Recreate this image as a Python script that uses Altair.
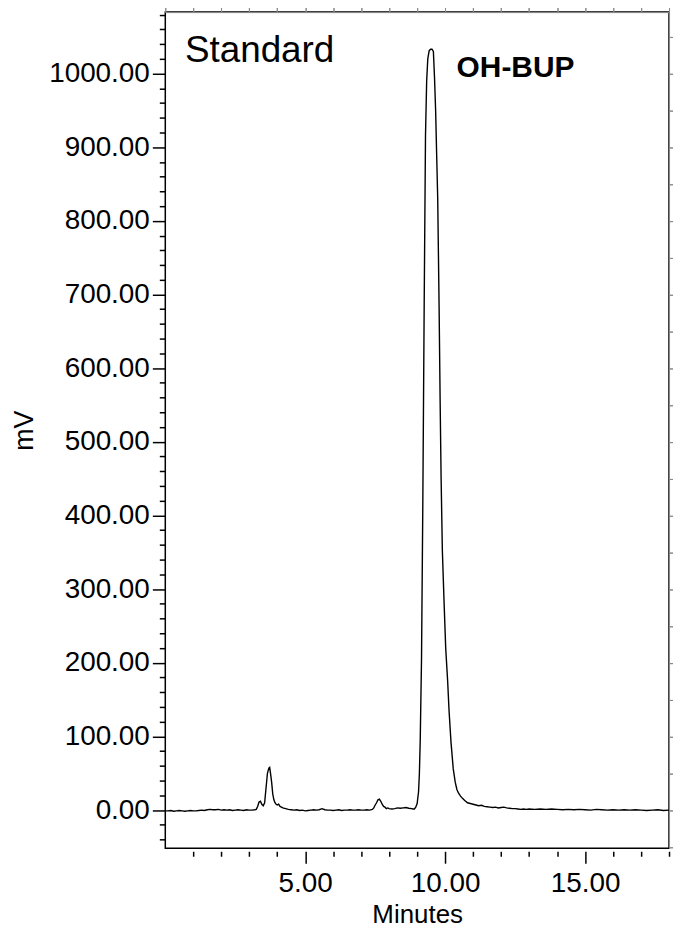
import altair as alt
import pandas as pd

# ---- chromatogram samples (time in minutes, signal in mV) ----
base1_t = [0.0, 0.1, 0.2, 0.3, 0.4, 0.5, 0.6, 0.7, 0.8, 0.9, 1.0, 1.1, 1.2, 1.3, 1.4, 1.5, 1.6,
           1.7, 1.8, 1.9, 2.0, 2.1, 2.2, 2.3, 2.4, 2.5, 2.6, 2.7, 2.8, 2.9, 3.0, 3.1, 3.2]
base1_v = [-1, -1, -0.5, -1.5, -1, -0.5, -1, -1.5, -1, -0.5, -1, -1, -0.5, 0, -0.5, 0.5, 1,
           0.5, 0.5, 1, 0, 0.5, 0, 0.5, -0.5, 0, 0.5, 0, -0.5, 0.5, 0, 0, 0.5]

peak1_t = [3.25, 3.30, 3.35, 3.40, 3.45, 3.50, 3.55, 3.60, 3.65, 3.70, 3.73, 3.76, 3.80, 3.84,
           3.88, 3.92, 3.96, 4.00, 4.05, 4.10, 4.15, 4.20, 4.30, 4.40, 4.50]
peak1_v = [1, 5, 11, 12, 8, 6, 10, 30, 50, 57, 58, 50, 38, 22,
           14, 10, 8, 7, 8, 5, 4, 3, 2, 1, 0.5]

base2_t = [4.6, 4.7, 4.8, 4.9, 5.0, 5.1, 5.2, 5.3, 5.4, 5.5, 5.6, 5.7, 5.8, 5.9, 6.0, 6.1, 6.2,
           6.3, 6.4, 6.5, 6.6, 6.7, 6.8, 6.9, 7.0, 7.1, 7.2, 7.3, 7.4]
base2_v = [0, 0.5, -0.5, 0, -1, -0.5, 0, 0.5, 0, 0.5, 2, 0.5, 0, 0, -0.5, 0, 0.5,
           -0.5, 0, 0, 0.5, 0, 0, 0.5, 0, 0, 0.5, 0, 1]

peak2_t = [7.45, 7.50, 7.55, 7.60, 7.65, 7.70, 7.75, 7.80, 7.85, 7.90, 7.95, 8.0, 8.1, 8.2,
           8.3, 8.4, 8.5, 8.6, 8.7, 8.8, 8.85]
peak2_v = [3, 7, 10, 14, 15, 12, 8, 5, 4, 2, 3, 2, 1.5, 2,
           3, 2.5, 3, 3.5, 2.5, 2, 1.5]

main_t = [8.90, 8.95, 9.00, 9.05, 9.08, 9.11, 9.156, 9.202, 9.252, 9.298, 9.34, 9.38, 9.43,
          9.48, 9.53, 9.58, 9.62, 9.66, 9.70, 9.735, 9.785, 9.821, 9.856, 9.90, 9.963, 10.02,
          10.09, 10.14, 10.21, 10.29, 10.36, 10.42, 10.48, 10.55, 10.62, 10.70, 10.80, 10.90]
main_v = [1.5, 4, 9, 25, 50, 95, 205, 415, 690, 915, 990, 1020, 1031,
          1033, 1033, 1030, 995, 950, 885, 830, 681, 556, 451, 353, 281, 220,
          175, 135, 92, 56, 38, 28, 23, 19, 16, 13, 10, 9]

tail_t = [11.0, 11.1, 11.2, 11.3, 11.4, 11.5, 11.6, 11.7, 11.8, 11.9, 12.0, 12.1, 12.2, 12.3,
          12.4, 12.5, 12.6, 12.7, 12.8, 12.9, 13.0, 13.2, 13.4, 13.6, 13.8, 14.0, 14.2, 14.4,
          14.6, 14.8, 15.0, 15.2, 15.4, 15.6, 15.8, 16.0, 16.2, 16.4, 16.6, 16.8, 17.0, 17.2,
          17.4, 17.6, 17.8, 18.0]
tail_v = [8, 7, 6, 6.5, 5, 4.5, 4, 3.5, 4, 3, 3.5, 4, 3, 2.5,
          2, 2, 1.5, 1, 1.5, 1, 1.5, 1, 1.5, 1, 1.5, 1, 0.5, 1,
          0.5, 1, 0.5, 0, 1, 0.5, 0, 0.5, 0, 0.5, 0, 0.5, 0, -0.5,
          0, 0.5, -0.5, 0]

# ---- axes ----
x_domain = [0, 18]
y_domain = [-51.8, 1083.4]
x_major = [5, 10, 15]
x_minor = [1, 2, 3, 4, 6, 7, 8, 9, 11, 12, 13, 14, 16, 17, 18]
y_major = [0, 100, 200, 300, 400, 500, 600, 700, 800, 900, 1000]
y_minor = [v for v in range(-40, 1081, 20) if v % 100 != 0]

# ---- annotations ----
label_std = ["Standard"]
label_std_x = [0.70]
label_std_y = [1015]
label_peak = ["OH-BUP"]
label_peak_x = [10.41]
label_peak_y = [995]

times = base1_t + peak1_t + base2_t + peak2_t + main_t + tail_t
signal = base1_v + peak1_v + base2_v + peak2_v + main_v + tail_v
df = pd.DataFrame({"t": times, "mv": signal})

FONT = "Liberation Sans"
xs = alt.Scale(domain=x_domain, nice=False, zero=False)
ys = alt.Scale(domain=y_domain, nice=False, zero=False)

line = alt.Chart(df).mark_line(color="black", strokeWidth=1.4, clip=True).encode(
    x=alt.X("t:Q", scale=xs, title="Minutes",
            axis=alt.Axis(values=x_major, format=".2f", tickSize=12, offset=3, domain=False,
                          labelPadding=6, labelFontSize=28, labelFont=FONT, labelColor="black",
                          tickColor="black", tickWidth=1.5, grid=False, orient="bottom",
                          titleFont=FONT, titleFontSize=26, titleFontWeight="normal",
                          titleColor="black", titleX=253, titleY=72,
                          titleBaseline="alphabetic")),
    y=alt.Y("mv:Q", scale=ys, title="mV",
            axis=alt.Axis(values=y_major, format=".2f", tickSize=13, domain=False,
                          labelPadding=3, labelFontSize=28, labelFont=FONT, labelColor="black",
                          tickColor="black", tickWidth=1.5, grid=False, orient="left",
                          titleFont=FONT, titleFontSize=27, titleFontWeight="normal",
                          titleColor="black", titleX=-133, titleY=420,
                          titleBaseline="alphabetic")),
)

minor = alt.Chart(df).mark_line(opacity=0).encode(
    x=alt.X("t:Q", scale=xs, title=None,
            axis=alt.Axis(values=x_minor, tickSize=5, offset=3, labels=False, domain=False,
                          tickColor="black", tickWidth=1.5, grid=False, orient="bottom")),
    y=alt.Y("mv:Q", scale=ys, title=None,
            axis=alt.Axis(values=y_minor, tickSize=6, labels=False, domain=False,
                          tickColor="black", tickWidth=1.5, grid=False, orient="left")),
)

std_df = pd.DataFrame({"x": label_std_x, "y": label_std_y, "txt": label_std})
peak_df = pd.DataFrame({"x": label_peak_x, "y": label_peak_y, "txt": label_peak})

std_text = alt.Chart(std_df).mark_text(
    align="left", baseline="alphabetic", font=FONT, fontSize=37, color="black"
).encode(x=alt.X("x:Q", scale=xs), y=alt.Y("y:Q", scale=ys), text="txt:N")

peak_text = alt.Chart(peak_df).mark_text(
    align="left", baseline="alphabetic", font=FONT, fontSize=30, fontWeight="bold", color="black"
).encode(x=alt.X("x:Q", scale=xs), y=alt.Y("y:Q", scale=ys), text="txt:N")

chart = alt.layer(line, minor, std_text, peak_text).resolve_scale(
    x="shared", y="shared"
).resolve_axis(
    x="independent", y="independent"
).properties(
    width=506, height=840,
    autosize=alt.AutoSizeParams(type="none"),
    padding={"left": 158, "top": 2, "right": 4, "bottom": 78},
    background="white",
).configure_view(stroke="black", strokeWidth=1.5)

chart.save("out.html", embed_options={"renderer": "svg", "actions": False})
